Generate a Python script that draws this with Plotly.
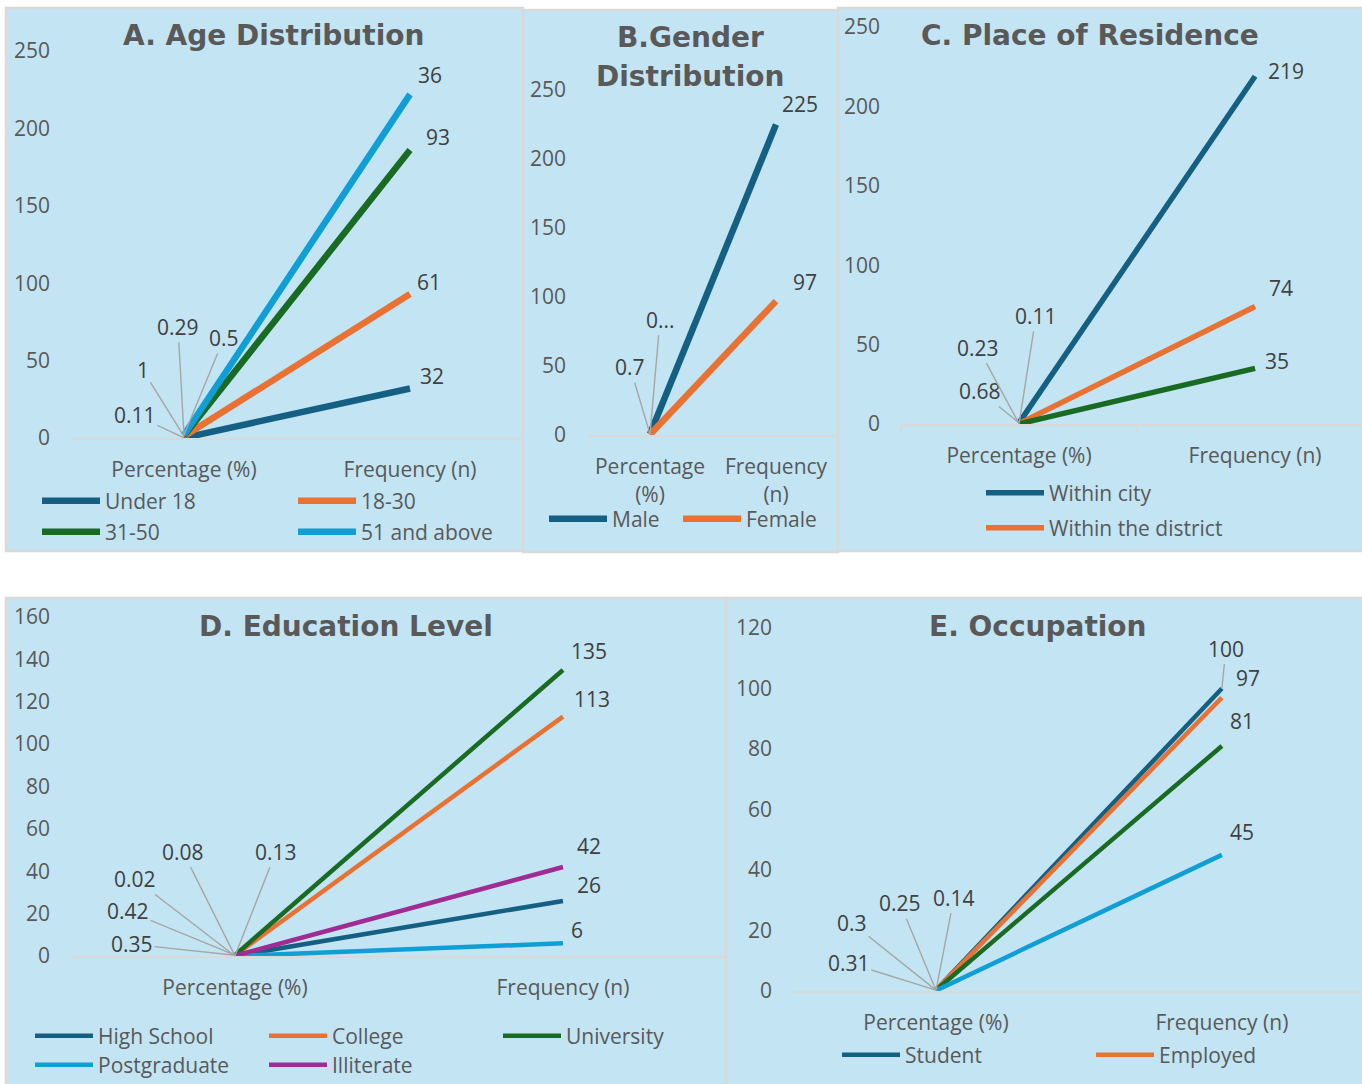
import numpy as np
import plotly.graph_objects as go

# ---------------- data ----------------
categories = ["Percentage (%)", "Frequency (n)"]
categories_wrapped = ["Percentage<br>(%)", "Frequency<br>(n)"]

age_groups = ["Under 18", "18-30", "31-50", "51 and above"]
age_pct = [0.11, 1, 0.29, 0.5]
age_freq = [32, 61, 93, 36]

gender_groups = ["Male", "Female"]
gender_pct = [0.7, 0.3]
gender_pct_text = ["0.7", "0..."]
gender_freq = [225, 97]

residence_groups = ["Within city", "Within the district", "Outside the district"]
residence_pct = [0.68, 0.23, 0.11]
residence_freq = [219, 74, 35]

education_groups = ["High School", "College", "University", "Postgraduate", "Illiterate"]
education_pct = [0.08, 0.35, 0.42, 0.02, 0.13]
education_freq = [26, 113, 135, 6, 42]

occupation_groups = ["Student", "Employed", "Unemployed", "Retired"]
occupation_pct = [0.31, 0.3, 0.25, 0.14]
occupation_freq = [100, 97, 81, 45]

# ---------------- style ----------------
W, H = 1362, 1084
FONT = "Open Sans"
TITLE_FONT = "DejaVu Sans"
FS = 21
TEXT = "#595959"
LABEL = "#404040"
LEADER = "#A6A6A6"
PANEL_BG = "#C2E4F3"
PANEL_EDGE = "#D9D9D9"
AXIS_LINE = "#D9D9D9"

DARK_BLUE = "#156082"
ORANGE = "#E97132"
GREEN = "#196B24"
LIGHT_BLUE = "#0F9ED5"
PURPLE = "#A02B93"


def px_x(v):
    return v / W


def px_y(v):
    return 1 - v / H


fig = go.Figure()


def axis_ids(n):
    s = "" if n == 1 else str(n)
    return "x" + s, "y" + s


def draw_panel(n, groups, pct, freq, colors, width, legend_of, stack=False,
               pct_text=None, pct_offsets=(), freq_offsets=(), freq_leader=()):
    xref, yref = axis_ids(n)
    y_pct = np.cumsum(pct) if stack else np.asarray(pct, dtype=float)
    y_freq = np.cumsum(freq) if stack else np.asarray(freq, dtype=float)
    for i, name in enumerate(groups):
        lg = legend_of.get(name)
        kw = dict(stackgroup=f"s{n}", fill="none") if stack else {}
        fig.add_trace(go.Scatter(
            x=categories, y=[pct[i], freq[i]], name=name, mode="lines",
            line=dict(color=colors[i], width=width),
            xaxis=xref, yaxis=yref,
            showlegend=lg is not None, legend=lg or "legend",
            hoverinfo="skip", **kw))
    labels = pct_text or [f"{v:g}" for v in pct]
    label_font = dict(family=FONT, size=FS, color=LABEL)
    for i in range(len(groups)):
        dx, dy = pct_offsets[i]
        fig.add_annotation(
            x=0, y=y_pct[i], xref=xref, yref=yref, text=labels[i],
            showarrow=True, arrowhead=0, arrowwidth=1.4, arrowcolor=LEADER,
            ax=dx, ay=dy, standoff=0, font=label_font)
        dx, dy = freq_offsets[i]
        if i in freq_leader:
            fig.add_annotation(
                x=1, y=y_freq[i], xref=xref, yref=yref, text=f"{freq[i]:g}",
                showarrow=True, arrowhead=0, arrowwidth=1.4, arrowcolor=LEADER,
                ax=dx, ay=dy, standoff=0, font=label_font)
        else:
            fig.add_annotation(
                x=1, y=y_freq[i], xref=xref, yref=yref, text=f"{freq[i]:g}",
                showarrow=False, xshift=dx, yshift=-dy, font=label_font)


draw_panel(1, age_groups, age_pct, age_freq,
           [DARK_BLUE, ORANGE, GREEN, LIGHT_BLUE], 6.5,
           {"Under 18": "legend", "18-30": "legend",
            "31-50": "legend2", "51 and above": "legend2"},
           stack=True,
           pct_offsets=[(-49, -23), (-41, -66), (-6, -109), (40, -97)],
           freq_offsets=[(22, -12), (19, -12), (28, -13), (20, -19)])

draw_panel(2, gender_groups, gender_pct, gender_freq,
           [DARK_BLUE, ORANGE], 6.5,
           {"Male": "legend3", "Female": "legend9"},
           pct_text=gender_pct_text,
           pct_offsets=[(-20, -67), (10, -115)],
           freq_offsets=[(24, -20), (29, -19)])

draw_panel(3, residence_groups, residence_pct, residence_freq,
           [DARK_BLUE, ORANGE, GREEN], 5.5,
           {"Within city": "legend4", "Within the district": "legend5"},
           pct_offsets=[(-39, -32), (-41, -76), (17, -108)],
           freq_offsets=[(31, -5), (26, -18), (22, -7)])

draw_panel(4, education_groups, education_pct, education_freq,
           [DARK_BLUE, ORANGE, GREEN, LIGHT_BLUE, PURPLE], 4.5,
           {"High School": "legend6", "College": "legend6", "University": "legend6",
            "Postgraduate": "legend7", "Illiterate": "legend7"},
           pct_offsets=[(-52, -104), (-103, -11), (-107, -44), (-100, -77), (41, -104)],
           freq_offsets=[(26, -16), (29, -18), (26, -19), (14, -13), (26, -21)])

draw_panel(5, occupation_groups, occupation_pct, occupation_freq,
           [DARK_BLUE, ORANGE, GREEN, LIGHT_BLUE], 4.5,
           {"Student": "legend8", "Employed": "legend8"},
           pct_offsets=[(-87, -27), (-84, -67), (-36, -87), (18, -93)],
           freq_offsets=[(4, -40), (26, -20), (20, -25), (20, -23)],
           freq_leader=(0,))

# ---------------- axes ----------------
panel_axes = {
    1: dict(x=(71, 523), y=(438, 51), yr=(0, 250), dtick=50, xr=(-0.5, 1.5), ticks=False),
    2: dict(x=(587, 839), y=(435, 90), yr=(0, 250), dtick=50, xr=(-0.5, 1.5), ticks=False),
    3: dict(x=(901, 1362), y=(424, 27), yr=(0, 250), dtick=50, xr=(-0.5, 1.453), ticks=True),
    4: dict(x=(71, 725), y=(956, 617), yr=(0, 160), dtick=20, xr=(-0.5, 1.494), ticks=False),
    5: dict(x=(793, 1362), y=(991, 628), yr=(0, 120), dtick=20, xr=(-0.5, 1.49), ticks=False),
}

tick_font = dict(family=FONT, size=FS, color=TEXT)
layout_axes = {}
for n, p in panel_axes.items():
    xid, yid = axis_ids(n)
    xname = "xaxis" + ("" if n == 1 else str(n))
    yname = "yaxis" + ("" if n == 1 else str(n))
    layout_axes[xname] = dict(
        domain=[px_x(p["x"][0]), px_x(p["x"][1])], anchor=yid,
        type="category", range=list(p["xr"]),
        tickvals=categories,
        ticktext=categories_wrapped if n == 2 else categories,
        showgrid=False, zeroline=False, showline=True,
        linecolor=AXIS_LINE, linewidth=2,
        ticks="outside" if p["ticks"] else "", tickson="boundaries",
        ticklen=6, tickcolor=AXIS_LINE, tickwidth=2,
        tickfont=tick_font, ticklabelstandoff=12, fixedrange=True)
    layout_axes[yname] = dict(
        domain=[px_y(p["y"][0]), px_y(p["y"][1])], anchor=xid,
        range=list(p["yr"]), dtick=p["dtick"], tick0=0,
        showgrid=False, zeroline=False, showline=False, ticks="",
        tickfont=tick_font, ticklabelstandoff=20, fixedrange=True)

# ---------------- panel backgrounds ----------------
panel_boxes = [(6, 8, 523, 551), (523, 10, 838, 552), (838, 8, 1366, 551),
               (6, 598, 726, 1090), (726, 598, 1366, 1090)]
shapes = [dict(type="rect", xref="paper", yref="paper",
               x0=px_x(a), x1=px_x(c), y0=px_y(d), y1=px_y(b),
               fillcolor=PANEL_BG, line=dict(color=PANEL_EDGE, width=2.5),
               layer="below")
          for a, b, c, d in panel_boxes]

# ---------------- titles ----------------
title_font = dict(family=TITLE_FONT, size=28, color=TEXT, weight="bold")
titles = [("A. Age Distribution", 273, 36), ("B.Gender", 690, 37),
          ("Distribution", 690, 77), ("C. Place of Residence", 1090, 36),
          ("D. Education Level", 346, 626), ("E. Occupation", 1038, 626)]
for text, x, y in titles:
    fig.add_annotation(x=px_x(x), y=px_y(y), xref="paper", yref="paper",
                       text=text, showarrow=False, font=title_font,
                       xanchor="center", yanchor="middle")

# ---------------- legends ----------------
# column spacing in px = entrywidth + symbol/gap allowance
SYMBOL_ALLOW = 73
legend_rows = {
    "legend": dict(x=42, y=501, col=256),
    "legend2": dict(x=42, y=532, col=256),
    "legend3": dict(x=549, y=519, col=134),
    "legend9": dict(x=683, y=519, col=150),
    "legend4": dict(x=986, y=493, col=260),
    "legend5": dict(x=986, y=528, col=260),
    "legend6": dict(x=35, y=1036, col=234),
    "legend7": dict(x=35, y=1065, col=234),
    "legend8": dict(x=842, y=1055, col=254),
}
legends = {}
for key, r in legend_rows.items():
    legends[key] = dict(
        orientation="h", x=px_x(r["x"] - 5), y=px_y(r["y"]),
        xanchor="left", yanchor="middle", xref="paper", yref="paper",
        bgcolor="rgba(0,0,0,0)", borderwidth=0,
        font=dict(family=FONT, size=FS, color=TEXT),
        itemwidth=58, entrywidth=r["col"] - SYMBOL_ALLOW, entrywidthmode="pixels",
        tracegroupgap=0, itemclick=False, itemdoubleclick=False)

fig.update_layout(
    width=W, height=H, autosize=False,
    margin=dict(l=0, r=0, t=0, b=0, autoexpand=False),
    paper_bgcolor="white", plot_bgcolor="rgba(0,0,0,0)",
    shapes=shapes, showlegend=True, hovermode=False,
    **layout_axes, **legends)

fig.write_html("out.html")
